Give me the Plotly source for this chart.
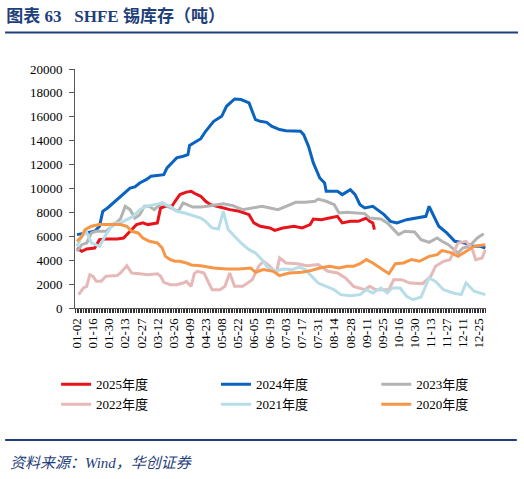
import plotly.graph_objects as go

# x axis: trading-day index, labelled every 10 days
tick_pos = list(range(0, 260, 10))
tick_text = ['01-02', '01-16', '01-30', '02-13', '02-27', '03-12', '03-26', '04-09', '04-23',
             '05-08', '05-22', '06-05', '06-19', '07-03', '07-17', '07-31', '08-14', '08-28',
             '09-11', '09-25', '10-16', '10-30', '11-13', '11-27', '12-11', '12-25']

idx_2025 = [0, 3, 6, 11, 14, 18, 25, 29, 33, 37, 41, 44, 50, 52, 55, 59, 61, 64, 68, 71, 73, 77, 80, 83,
            87, 91, 95, 101, 107, 110, 114, 120, 123, 128, 135, 140, 145, 147, 152, 157, 162, 165, 170,
            175, 180, 182, 184, 185]
val_2025 = [5020, 4740, 4940, 5020, 5720, 5780, 5780, 5860, 6420, 6980, 7120, 6980, 7120, 8370, 8510,
            8510, 8930, 9490, 9700, 9770, 9600, 9350, 8930, 8650, 8510, 8370, 8230, 8090, 7810, 7120,
            6840, 6700, 6500, 6700, 6840, 6700, 6980, 7450, 7390, 7530, 7670, 7120, 7250, 7250, 7530,
            7250, 7120, 6560]

idx_2024 = [0, 6, 11, 14, 16, 19, 25, 29, 33, 36, 39, 43, 46, 54, 56, 60, 62, 66, 69, 70, 74, 77, 80,
            85, 90, 93, 98, 102, 107, 111, 114, 118, 121, 126, 130, 139, 141, 144, 147, 151, 154, 155,
            162, 165, 170, 173, 176, 179, 184, 187, 191, 195, 199, 205, 211, 217, 219, 221, 225, 230,
            235, 241, 246, 251, 254]
val_2024 = [6140, 6280, 6420, 6840, 8090, 8370, 9070, 9490, 10040, 10130, 10460, 10740, 11020, 11160,
            11720, 12280, 12560, 12700, 12830, 13600, 13900, 14170, 14790, 15620, 16040, 16880, 17490,
            17440, 17160, 15760, 15620, 15540, 15210, 14930, 14840, 14790, 14510, 13530, 12140, 10880,
            10460, 9770, 9770, 9490, 9900, 9490, 8650, 8370, 8510, 8230, 7810, 7250, 7110, 7390, 7530,
            7670, 8510, 7950, 6840, 6280, 5580, 5440, 5160, 5160, 5020]

idx_2023 = [0, 3, 6, 9, 12, 18, 23, 27, 30, 33, 36, 39, 42, 45, 48, 53, 56, 60, 63, 66, 69, 72, 77, 81,
            91, 97, 103, 108, 115, 120, 125, 130, 136, 142, 148, 150, 155, 160, 163, 168, 172, 179, 182,
            189, 193, 197, 200, 204, 210, 214, 219, 224, 227, 231, 235, 237, 240, 244, 249, 253]
val_2023 = [4740, 5300, 5440, 6280, 6420, 6420, 6980, 7450, 8510, 8230, 7530, 7810, 8510, 8510, 8230,
            8790, 8510, 8230, 8090, 8790, 8650, 8450, 8450, 8510, 8730, 8570, 8230, 8370, 8510, 8370,
            8230, 8510, 8840, 8840, 8930, 9120, 8930, 8650, 7950, 8010, 7950, 7900, 7530, 7450, 7120,
            6560, 6140, 6420, 6360, 5720, 5500, 5860, 5580, 5300, 4880, 4600, 5020, 5160, 5860, 6220]

idx_2022 = [1, 4, 6, 8, 10, 12, 15, 18, 25, 27, 31, 34, 39, 44, 50, 52, 54, 58, 62, 66, 68, 71, 73, 75,
            79, 84, 89, 92, 95, 98, 103, 109, 113, 116, 120, 124, 126, 130, 137, 143, 150, 156, 162, 167,
            172, 179, 182, 186, 194, 197, 202, 207, 215, 220, 223, 228, 232, 237, 242, 246, 248, 252, 254]
val_2022 = [1120, 1670, 1810, 2790, 2650, 2230, 2230, 2650, 2710, 2930, 3540, 2930, 2870, 2790, 2870,
            2650, 2150, 1950, 1950, 2090, 2230, 1810, 2900, 3070, 2930, 1530, 1530, 1810, 2930, 1810,
            1810, 2370, 3490, 3910, 3490, 2930, 4190, 3770, 3710, 3540, 3630, 3070, 2930, 2510, 1810,
            1530, 1810, 1530, 1530, 2370, 2370, 2090, 2040, 2650, 3490, 3910, 4050, 5440, 5580, 4880,
            4050, 4190, 4880]

idx_2021 = [0, 3, 6, 9, 14, 18, 23, 27, 31, 35, 39, 43, 48, 53, 58, 62, 67, 73, 77, 80, 84, 88, 91, 94,
            98, 102, 107, 111, 115, 118, 123, 128, 134, 138, 142, 146, 150, 155, 160, 164, 170, 176, 180,
            184, 189, 193, 196, 201, 205, 209, 214, 219, 223, 228, 234, 239, 242, 247, 254]
val_2021 = [5160, 6000, 6330, 5440, 5160, 6140, 7120, 7120, 7390, 7670, 8230, 8510, 8650, 8790, 8510,
            8090, 7950, 7670, 7530, 7250, 6700, 6610, 8090, 6560, 6000, 5440, 4880, 4600, 4050, 3490,
            3070, 3260, 3210, 3430, 3210, 2650, 2090, 1810, 1530, 1120, 1030, 1120, 1530, 1260, 1670,
            1260, 1670, 1670, 980, 700, 920, 2510, 2230, 1530, 1260, 1120, 2090, 1400, 1120]

idx_2020 = [0, 3, 5, 9, 14, 21, 27, 31, 34, 38, 41, 45, 50, 53, 55, 58, 61, 64, 68, 71, 77, 85, 93, 101,
            108, 111, 116, 122, 126, 132, 140, 146, 151, 157, 163, 168, 172, 176, 180, 184, 190, 194, 198,
            203, 208, 213, 219, 224, 227, 232, 237, 242, 247, 254]
val_2020 = [5580, 6000, 6560, 6840, 6980, 6980, 6980, 6840, 6420, 6280, 5860, 5580, 5440, 5020, 4320,
            4050, 3910, 3910, 3770, 3600, 3540, 3350, 3260, 3260, 3350, 2990, 3210, 3070, 2710, 2930,
            2990, 3150, 3350, 3490, 3350, 3490, 3490, 3710, 4050, 3770, 3210, 2870, 3710, 3770, 4050,
            3910, 4320, 4460, 4800, 4660, 4320, 4740, 5160, 5300]

# name, x, y, colour, legend column
series = [
    ('2025年度', idx_2025, val_2025, '#E8141C', 'legend'),
    ('2024年度', idx_2024, val_2024, '#0A63BE', 'legend2'),
    ('2023年度', idx_2023, val_2023, '#B3B3B3', 'legend3'),
    ('2022年度', idx_2022, val_2022, '#E6B8B7', 'legend'),
    ('2021年度', idx_2021, val_2021, '#B7DEE8', 'legend2'),
    ('2020年度', idx_2020, val_2020, '#F79646', 'legend3'),
]

SERIF = 'Liberation Serif, Times New Roman, Noto Sans CJK SC, serif'
NAVY = '#1F3F7A'

fig = go.Figure()
for name, xs, ys, color, leg in series:
    fig.add_trace(go.Scatter(x=xs, y=ys, name=name, mode='lines', legend=leg,
                             line=dict(color=color, width=3)))

legend_style = dict(orientation='v', xanchor='left', y=-0.257, yanchor='top',
                    font=dict(size=13, family=SERIF), traceorder='normal', bgcolor='rgba(0,0,0,0)')

fig.update_layout(
    width=524, height=479,
    margin=dict(l=75, r=38, t=69, b=171),
    paper_bgcolor='white', plot_bgcolor='white',
    font=dict(family=SERIF, color='black'),
    showlegend=True,
    title=dict(text='<b>图表 63   SHFE 锡库存（吨）</b>', x=0.012, xanchor='left', xref='container',
               y=0.967, yanchor='middle', yref='container',
               font=dict(size=17, color=NAVY, family=SERIF)),
    legend=dict(x=-0.046, **legend_style),
    legend2=dict(x=0.343, **legend_style),
    legend3=dict(x=0.733, **legend_style),
)

fig.update_xaxes(range=[-1.25, 254.4], tickmode='array', tickvals=tick_pos, ticktext=tick_text,
                 tickangle=-90, tickfont=dict(size=13, family=SERIF),
                 showline=True, linecolor='#595959', linewidth=1, showgrid=False, zeroline=False,
                 ticks='outside', ticklen=4, tickcolor='#333333',
                 minor=dict(dtick=1, tick0=0, ticks='outside', ticklen=4, tickcolor='#333333'))
fig.update_yaxes(range=[0, 20000], tickmode='linear', tick0=0, dtick=2000, tickformat='d',
                 tickfont=dict(size=13, family=SERIF),
                 showline=True, linecolor='#595959', linewidth=1, showgrid=False, zeroline=False,
                 ticks='outside', ticklen=5, tickcolor='#595959', ticklabelstandoff=4)

# rules under the title and above the source note
fig.add_shape(type='line', xref='paper', yref='paper', x0=-0.170, x1=1.078, y0=1.153, y1=1.153,
              line=dict(color=NAVY, width=2))
fig.add_shape(type='line', xref='paper', yref='paper', x0=-0.170, x1=1.075, y0=-0.552, y1=-0.552,
              line=dict(color=NAVY, width=2))
fig.add_annotation(xref='paper', yref='paper', x=-0.163, y=-0.649, xanchor='left', yanchor='middle',
                   text='<i>资料来源：Wind，华创证券</i>', showarrow=False,
                   font=dict(size=15, color=NAVY, family=SERIF))

fig.write_html('out.html', config={'displayModeBar': False},
               post_script="document.body.style.margin='0px';")
